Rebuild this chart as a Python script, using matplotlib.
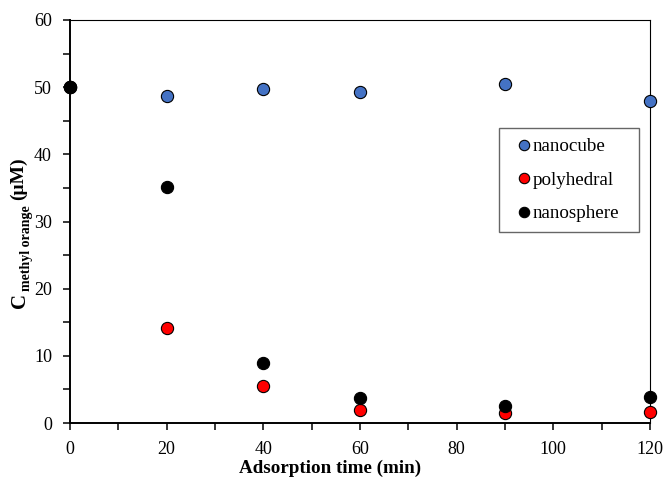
import matplotlib
matplotlib.use("Agg")
import matplotlib.pyplot as plt
from matplotlib.ticker import MultipleLocator

plt.rcParams['font.family'] = ['Liberation Serif', 'DejaVu Serif']

# Adsorption time (min)
time_min = [0, 20, 40, 60, 90, 120]

# Methyl orange concentration (uM) for each morphology
nanocube = [50.0, 48.7, 49.8, 49.3, 50.5, 48.0]
polyhedral = [50.0, 14.2, 5.5, 1.9, 1.5, 1.6]
nanosphere = [50.0, 35.2, 9.0, 3.7, 2.6, 3.9]

series_names = ["nanocube", "polyhedral", "nanosphere"]
series_colors = ["#4472C4", "#FF0000", "#000000"]

W, H = 666, 483
fig = plt.figure(figsize=(W / 100, H / 100), dpi=100)
ax = fig.add_axes([70 / W, 60 / H, 580 / W, 403 / H])

for vals, name, col in zip([nanocube, polyhedral, nanosphere], series_names, series_colors):
    ax.plot(time_min, vals, linestyle='none', marker='o', markersize=8.8,
            markerfacecolor=col, markeredgecolor='black', markeredgewidth=0.8,
            label=name, clip_on=False, zorder=3)

ax.set_xlim(0, 120)
ax.set_ylim(0, 60)
ax.xaxis.set_major_locator(MultipleLocator(20))
ax.xaxis.set_minor_locator(MultipleLocator(10))
ax.yaxis.set_major_locator(MultipleLocator(10))
ax.yaxis.set_minor_locator(MultipleLocator(5))

ax.tick_params(axis='both', which='both', direction='out', labelsize=13,
               width=1.1, color='black', top=False, right=False, length=5)
ax.tick_params(axis='x', which='major', pad=8)
ax.tick_params(axis='y', which='major', pad=8)

for side in ['left', 'bottom']:
    ax.spines[side].set_linewidth(1.4)
for side in ['top', 'right']:
    ax.spines[side].set_linewidth(0.8)

ax.set_xlabel('Adsorption time (min)', fontsize=13.7, fontweight='bold')
ax.xaxis.set_label_coords(0.448, -0.092)

# y-axis title built from pieces: large C, smaller subscript, unit
ylab = dict(rotation=90, rotation_mode='anchor', ha='left', va='baseline',
            fontweight='bold', transform=fig.transFigure)
fig.text(25 / W, (H - 308) / H, 'C', fontsize=15, **ylab)
fig.text(30 / W, (H - 291) / H, 'methyl orange', fontsize=10, **ylab)
fig.text(23.5 / W, (H - 200) / H, '(μM)', fontsize=14, **ylab)

leg = ax.legend(loc='upper left', bbox_to_anchor=(429 / 580, 295 / 403, 140 / 580, 0),
                mode='expand', fontsize=13.7, frameon=True, fancybox=False,
                handlelength=1.58, handletextpad=-0.32, borderpad=0.52,
                labelspacing=0.85, borderaxespad=0, markerscale=0.85)
leg.get_frame().set_edgecolor('#404040')
leg.get_frame().set_linewidth(1.0)

fig.savefig('out.png', dpi=100)
